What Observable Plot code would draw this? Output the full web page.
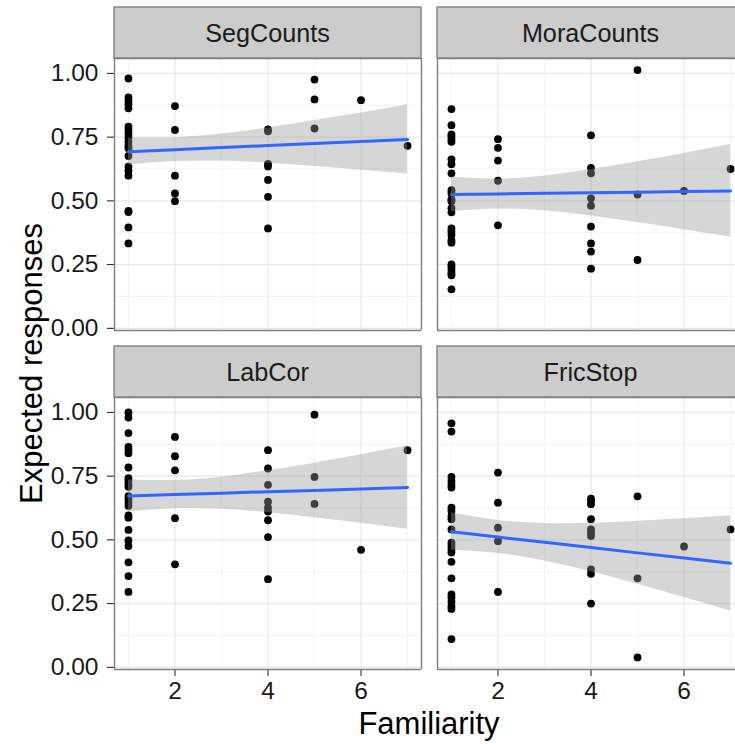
<!DOCTYPE html>
<html>
<head>
<meta charset="utf-8">
<script src="https://cdn.jsdelivr.net/npm/d3@7"></script>
<script src="https://cdn.jsdelivr.net/npm/@observablehq/plot@0.6"></script>
<style>
html, body { margin: 0; padding: 0; background: #fff; overflow: hidden; }
#chart { position: relative; width: 735px; height: 744px; font-family: "Liberation Sans", Arial, sans-serif; }
#chart > svg, #chart > div { position: absolute; }
</style>
</head>
<body>
<div id="chart"></div>
<script>
// ---- data: [Familiarity, Expected responses] per facet ----
const panelNames = ["SegCounts", "MoraCounts", "LabCor", "FricStop"];

const segCounts = [
  [1,0.980],[1,0.906],[1,0.893],[1,0.878],[1,0.863],[1,0.791],[1,0.778],[1,0.765],[1,0.749],[1,0.732],
  [1,0.716],[1,0.706],[1,0.676],[1,0.634],[1,0.618],[1,0.599],[1,0.461],[1,0.456],[1,0.396],[1,0.333],
  [2,0.872],[2,0.778],[2,0.599],[2,0.529],[2,0.499],
  [4,0.780],[4,0.773],[4,0.645],[4,0.635],[4,0.582],[4,0.516],[4,0.392],
  [5,0.976],[5,0.898],[5,0.784],
  [6,0.895],
  [7,0.716]
];
const moraCounts = [
  [1,0.860],[1,0.797],[1,0.761],[1,0.752],[1,0.741],[1,0.732],[1,0.663],[1,0.644],[1,0.608],[1,0.542],
  [1,0.529],[1,0.506],[1,0.499],[1,0.471],[1,0.455],[1,0.392],[1,0.379],[1,0.366],[1,0.346],[1,0.336],
  [1,0.251],[1,0.242],[1,0.229],[1,0.216],[1,0.208],[1,0.153],
  [2,0.742],[2,0.708],[2,0.658],[2,0.579],[2,0.404],
  [4,0.757],[4,0.629],[4,0.608],[4,0.510],[4,0.481],[4,0.399],[4,0.333],[4,0.301],[4,0.234],
  [5,1.013],[5,0.525],[5,0.268],
  [6,0.539],
  [7,0.625]
];
const labCor = [
  [1,1.000],[1,0.980],[1,0.919],[1,0.865],[1,0.853],[1,0.840],[1,0.784],[1,0.742],[1,0.731],[1,0.718],
  [1,0.708],[1,0.672],[1,0.659],[1,0.646],[1,0.633],[1,0.596],[1,0.587],[1,0.539],[1,0.498],[1,0.476],
  [1,0.412],[1,0.358],[1,0.296],
  [2,0.904],[2,0.828],[2,0.773],[2,0.585],[2,0.404],
  [4,0.852],[4,0.780],[4,0.716],[4,0.650],[4,0.626],[4,0.611],[4,0.577],[4,0.511],[4,0.346],
  [5,0.991],[5,0.747],[5,0.641],
  [6,0.461],
  [7,0.852]
];
const fricStop = [
  [1,0.957],[1,0.925],[1,0.747],[1,0.731],[1,0.716],[1,0.705],[1,0.626],[1,0.613],[1,0.594],[1,0.581],
  [1,0.541],[1,0.489],[1,0.476],[1,0.463],[1,0.450],[1,0.414],[1,0.349],[1,0.286],[1,0.273],[1,0.257],
  [1,0.240],[1,0.229],[1,0.111],
  [2,0.764],[2,0.646],[2,0.548],[2,0.495],[2,0.296],
  [4,0.662],[4,0.653],[4,0.640],[4,0.581],[4,0.541],[4,0.528],[4,0.515],[4,0.384],[4,0.367],[4,0.250],
  [5,0.671],[5,0.349],[5,0.039],
  [6,0.474],
  [7,0.541]
];

// ---- smoother (linear fit and its band), read at Familiarity 1..7 ----
const bandX = [1, 2, 3, 4, 5, 6, 7];
const segFit  = [0.693, 0.701, 0.709, 0.717, 0.725, 0.733, 0.741];
const segLo   = [0.640, 0.654, 0.656, 0.648, 0.635, 0.621, 0.605];
const segHi   = [0.747, 0.748, 0.762, 0.786, 0.815, 0.845, 0.877];
const moraFit = [0.525, 0.527, 0.530, 0.532, 0.534, 0.537, 0.539];
const moraLo  = [0.457, 0.468, 0.461, 0.441, 0.415, 0.387, 0.358];
const moraHi  = [0.594, 0.586, 0.598, 0.623, 0.653, 0.686, 0.721];
const labFit  = [0.672, 0.678, 0.683, 0.689, 0.694, 0.700, 0.705];
const labLo   = [0.609, 0.622, 0.620, 0.606, 0.587, 0.565, 0.542];
const labHi   = [0.735, 0.733, 0.746, 0.771, 0.801, 0.834, 0.868];
const fricFit = [0.532, 0.511, 0.491, 0.470, 0.449, 0.429, 0.408];
const fricLo  = [0.459, 0.447, 0.417, 0.375, 0.326, 0.274, 0.221];
const fricHi  = [0.606, 0.576, 0.564, 0.565, 0.573, 0.583, 0.595];

// ---- axes ----
const yTicks = [0, 0.25, 0.5, 0.75, 1];
const yMinor = [0.125, 0.375, 0.625, 0.875];
const xTicks = [2, 4, 6];
const xMinor = [1, 3, 5, 7];
const yTitle = "Expected responses";
const xTitle = "Familiarity";

const panels = [
  {name: panelNames[0], pts: segCounts,  fit: segFit,  lo: segLo,  hi: segHi,  col: 0, row: 0},
  {name: panelNames[1], pts: moraCounts, fit: moraFit, lo: moraLo, hi: moraHi, col: 1, row: 0},
  {name: panelNames[2], pts: labCor,     fit: labFit,  lo: labLo,  hi: labHi,  col: 0, row: 1},
  {name: panelNames[3], pts: fricStop,   fit: fricFit, lo: fricLo, hi: fricHi, col: 1, row: 1}
];

// ---- layout ----
const FONT = '"Liberation Sans", Arial, sans-serif';
const frameLeft = [114, 437];
const frameTop = [58, 397];
const frameH = 272;
const fullW = 307;                 // full panel width (x 0.7 .. 7.3)
const pxPerUnit = fullW / 6.6;
const viewW = 735;
const yDom = [-0.0085, 1.0585];
const stripH = 51;
const border = "#7f7f7f";

const chart = document.getElementById("chart");
const idx = bandX.map((_, i) => i);

for (const p of panels) {
  const left = p.col === 0;
  const bottom = p.row === 1;
  const fw = left ? fullW : viewW - frameLeft[1];
  const mL = left ? frameLeft[0] : 3;
  const mR = left ? 3 : 0;
  const mT = 4;
  const mB = bottom ? 42 : 4;
  const xMax = 0.7 + fw / pxPerUnit;
  const svgLeft = frameLeft[p.col] - mL;
  const svgTop = frameTop[p.row] - mT;

  const plot = Plot.plot({
    width: mL + fw + mR,
    height: mT + frameH + mB,
    marginLeft: mL, marginRight: mR, marginTop: mT, marginBottom: mB,
    style: {fontFamily: FONT, fontSize: "24.5px", color: "#1a1a1a", background: "transparent", overflow: "visible"},
    x: {domain: [0.7, xMax], ticks: xTicks, tickSize: 7, tickPadding: 5, label: null,
        tickFormat: d3.format("d"), axis: bottom ? "bottom" : null},
    y: {domain: yDom, ticks: yTicks, tickSize: 7, tickPadding: 9, label: null,
        tickFormat: d3.format(".2f"), axis: left ? "left" : null},
    marks: [
      Plot.ruleY(yMinor, {stroke: "#f4f4f4", strokeWidth: 1.2}),
      Plot.ruleX(xMinor.filter(v => v < xMax), {stroke: "#f4f4f4", strokeWidth: 1.2}),
      Plot.ruleY(yTicks, {stroke: "#e8e8e8", strokeWidth: 1.2}),
      Plot.ruleX(xTicks, {stroke: "#e8e8e8", strokeWidth: 1.2}),
      Plot.dot(p.pts, {x: d => d[0], y: d => d[1], r: 3.9, fill: "black", stroke: "none"}),
      Plot.areaY(idx, {x: i => bandX[i], y1: i => p.lo[i], y2: i => p.hi[i],
                       fill: "#999999", fillOpacity: 0.4, curve: "natural"}),
      Plot.line(idx, {x: i => bandX[i], y: i => p.fit[i], stroke: "#3366FF", strokeWidth: 3}),
      Plot.ruleY(yDom, {stroke: border, strokeWidth: 1.4}),
      Plot.ruleX(left ? [0.7, 7.3] : [0.7], {stroke: border, strokeWidth: 1.4})
    ]
  });
  plot.style.left = svgLeft + "px";
  plot.style.top = svgTop + "px";
  chart.appendChild(plot);
}

// ---- strips and titles (overlay) ----
const ns = "http://www.w3.org/2000/svg";
const ov = document.createElementNS(ns, "svg");
ov.setAttribute("width", viewW);
ov.setAttribute("height", 744);
ov.style.left = "0px"; ov.style.top = "0px";
ov.style.fontFamily = FONT;
function el(tag, attrs, text) {
  const e = document.createElementNS(ns, tag);
  for (const k in attrs) e.setAttribute(k, attrs[k]);
  if (text) e.textContent = text;
  ov.appendChild(e);
  return e;
}
for (const p of panels) {
  const x0 = frameLeft[p.col];
  const w = fullW;   // right strip runs past the window edge
  const y0 = frameTop[p.row] - stripH;
  el("rect", {x: x0, y: y0, width: w, height: stripH, fill: "#cccccc", stroke: border, "stroke-width": 1.4});
  el("text", {x: x0 + w / 2, y: y0 + stripH / 2 + 9, "text-anchor": "middle", "font-size": 25.2, fill: "#1a1a1a"}, p.name);
}
el("text", {transform: "translate(41.5,363.5) rotate(-90)", "text-anchor": "middle", "font-size": 31, fill: "black"}, yTitle);
el("text", {x: 429, y: 734, "text-anchor": "middle", "font-size": 31, fill: "black"}, xTitle);
chart.appendChild(ov);
</script>
</body>
</html>
